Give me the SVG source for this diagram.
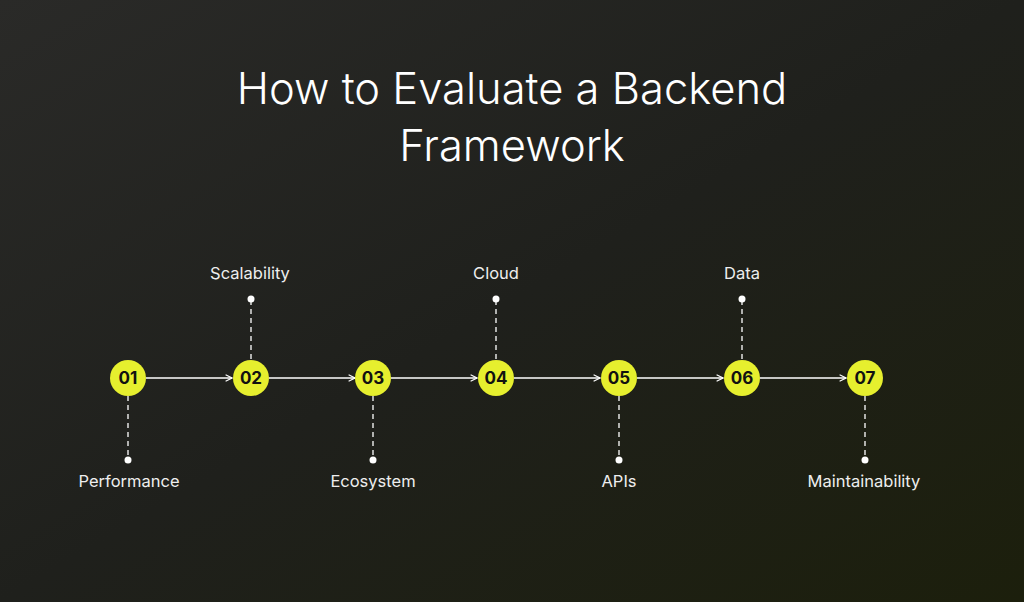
<svg xmlns="http://www.w3.org/2000/svg" width="1024" height="602" viewBox="0 0 1024 602">
<defs>
<linearGradient id="bg" x1="0" y1="0" x2="1" y2="1">
<stop offset="0" stop-color="#2a2a28"/><stop offset="0.5" stop-color="#1f201c"/><stop offset="1" stop-color="#1c1f0c"/>
</linearGradient>
<marker id="ar" viewBox="0 0 10 10" refX="9" refY="5" markerWidth="8" markerHeight="8" orient="auto" markerUnits="userSpaceOnUse">
<path d="M1,1 L9,5 L1,9" fill="none" stroke="#fff" stroke-width="1.4"/>
</marker>
<style>
.t{font-family:Inter,"Liberation Sans",sans-serif;fill:#fff;font-weight:300}
.n{font-family:Inter,"Liberation Sans",sans-serif;font-weight:700;font-size:17px;fill:#111;text-anchor:middle}
.l{font-family:Inter,"Liberation Sans",sans-serif;font-size:16.5px;fill:#eee;text-anchor:middle}
.c{fill:#e6ef2e}
.d{stroke:#fff;stroke-width:1.3;stroke-dasharray:5 4}
.a{stroke:#fff;stroke-width:1.3;fill:none}
</style>
</defs>
<rect width="1024" height="602" fill="url(#bg)"/>
<text class="t" x="512" y="104" font-size="43.5" text-anchor="middle">How to Evaluate a Backend</text>
<text class="t" x="512" y="161" font-size="43.5" text-anchor="middle">Framework</text>
<g id="connectors">
<line class="a" x1="146" y1="378" x2="232" y2="378" marker-end="url(#ar)"/>
<line class="a" x1="269" y1="378" x2="355" y2="378" marker-end="url(#ar)"/>
<line class="a" x1="391" y1="378" x2="477" y2="378" marker-end="url(#ar)"/>
<line class="a" x1="514" y1="378" x2="600" y2="378" marker-end="url(#ar)"/>
<line class="a" x1="637" y1="378" x2="723" y2="378" marker-end="url(#ar)"/>
<line class="a" x1="760" y1="378" x2="846" y2="378" marker-end="url(#ar)"/>
<line class="d" x1="128" y1="396" x2="128" y2="460"/>
<line class="d" x1="251" y1="300" x2="251" y2="360"/>
<line class="d" x1="373" y1="396" x2="373" y2="460"/>
<line class="d" x1="496" y1="300" x2="496" y2="360"/>
<line class="d" x1="619" y1="396" x2="619" y2="460"/>
<line class="d" x1="742" y1="300" x2="742" y2="360"/>
<line class="d" x1="865" y1="396" x2="865" y2="460"/>
</g>
<g id="n1"><circle class="c" cx="128" cy="378" r="18"/><text class="n" x="128" y="384">01</text><circle cx="128" cy="460" r="3.5" fill="#fff"/><text class="l" x="129" y="487">Performance</text></g>
<g id="n2"><circle class="c" cx="251" cy="378" r="18"/><text class="n" x="251" y="384">02</text><circle cx="251" cy="299" r="3.5" fill="#fff"/><text class="l" x="250" y="279">Scalability</text></g>
<g id="n3"><circle class="c" cx="373" cy="378" r="18"/><text class="n" x="373" y="384">03</text><circle cx="373" cy="460" r="3.5" fill="#fff"/><text class="l" x="373" y="487">Ecosystem</text></g>
<g id="n4"><circle class="c" cx="496" cy="378" r="18"/><text class="n" x="496" y="384">04</text><circle cx="496" cy="299" r="3.5" fill="#fff"/><text class="l" x="496" y="279">Cloud</text></g>
<g id="n5"><circle class="c" cx="619" cy="378" r="18"/><text class="n" x="619" y="384">05</text><circle cx="619" cy="460" r="3.5" fill="#fff"/><text class="l" x="619" y="487">APIs</text></g>
<g id="n6"><circle class="c" cx="742" cy="378" r="18"/><text class="n" x="742" y="384">06</text><circle cx="742" cy="299" r="3.5" fill="#fff"/><text class="l" x="742" y="279">Data</text></g>
<g id="n7"><circle class="c" cx="865" cy="378" r="18"/><text class="n" x="865" y="384">07</text><circle cx="865" cy="460" r="3.5" fill="#fff"/><text class="l" x="864" y="487">Maintainability</text></g>
</svg>
